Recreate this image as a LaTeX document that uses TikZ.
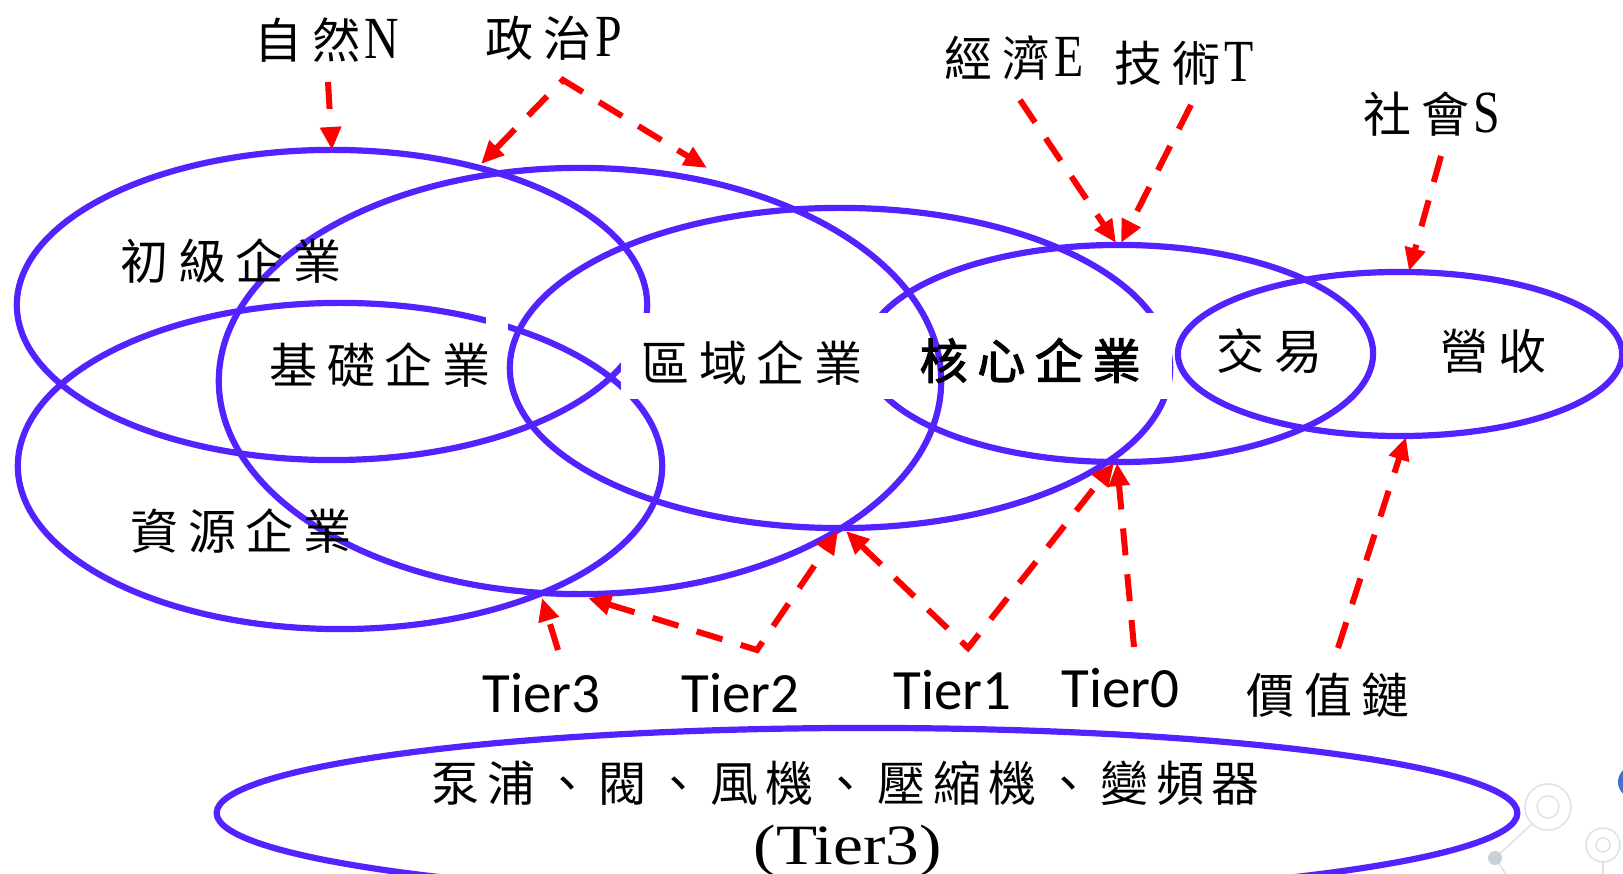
\documentclass[tikz,border=0pt]{standalone}
\usepackage{fontspec}
\usetikzlibrary{arrows.meta}
\newfontfamily\cjkfont[LetterSpace=20]{Noto Sans CJK TC}
\newfontfamily\cjkwidefont[LetterSpace=16]{Noto Sans CJK TC}
\newfontfamily\cjkboldfont[LetterSpace=20,FakeBold=2.5]{Noto Sans CJK TC}
\newfontfamily\latnarrow[FakeStretch=0.8]{Liberation Serif}
\newfontfamily\latwide[FakeStretch=1.18]{Liberation Serif}
\newfontfamily\tierfont{Carlito}
\newcommand\latchar[1]{\kern0.04cm{\latnarrow\fontsize{17pt}{20pt}\selectfont #1}}
\definecolor{ellblue}{RGB}{84,34,255}
\definecolor{arrred}{RGB}{255,0,0}
\definecolor{decogray}{RGB}{222,226,230}
\definecolor{decodot}{RGB}{200,208,218}
\definecolor{decoblue}{RGB}{68,114,196}
\tikzset{
  ell/.style={draw=ellblue, line width=0.062cm},
  cj/.style={font=\cjkfont\fontsize{13.66pt}{16pt}\selectfont, inner sep=0pt, anchor=base west},
  cjw/.style={font=\cjkwidefont\fontsize{13.66pt}{16pt}\selectfont, inner sep=0pt, anchor=base west},
  cjb/.style={font=\cjkboldfont\fontsize{13.66pt}{16pt}\selectfont, inner sep=0pt, anchor=base west},
  tier/.style={font=\tierfont\fontsize{16.2pt}{19pt}\selectfont, inner sep=0pt, anchor=base west},
  paren/.style={font=\latwide\fontsize{16.2pt}{19pt}\selectfont, inner sep=0pt, anchor=base west},
  arr/.style={draw=arrred, line width=0.06cm, dash pattern=on 0.27cm off 0.19cm,
    -{Triangle[length=0.23cm,width=0.2cm]}},
  arrboth/.style={draw=arrred, line width=0.06cm, dash pattern=on 0.27cm off 0.19cm,
    {Triangle[length=0.23cm,width=0.2cm]}-{Triangle[length=0.23cm,width=0.2cm]}},
  deco/.style={draw=decogray, line width=0.015cm}
}
\begin{document}
\begin{tikzpicture}[x=0.01cm,y=-0.01cm]
\useasboundingbox (0,0) rectangle (1623,874);
\clip (0,0) rectangle (1623,874);
\fill[white] (0,0) rectangle (1623,874);

% background decoration (bottom right)
\draw[deco] (1533,823) -- (1495,858) -- (1510,880);
\draw[deco] (1603,862) -- (1603,880);
\draw[deco, fill=white] (1548,807) circle [radius=0.23cm];
\draw[deco] (1548,807) circle [radius=0.11cm];
\draw[deco, fill=white] (1603,845) circle [radius=0.17cm];
\draw[deco] (1603,845) circle [radius=0.07cm];
\fill[decodot] (1495,858) circle [radius=0.07cm];
\fill[decoblue] (1634,782) circle [radius=0.16cm];

% ellipses
\draw[ell] (332,305) ellipse [x radius=3.15cm, y radius=1.55cm];
\draw[ell] (340,466) ellipse [x radius=3.22cm, y radius=1.63cm];
\draw[ell] (840,368) ellipse [x radius=3.30cm, y radius=1.60cm];
\draw[ell] (1119,353.5) ellipse [x radius=2.54cm, y radius=1.085cm];
\draw[ell] (1400,354) ellipse [x radius=2.22cm, y radius=0.82cm];
\draw[ell] (867,813) ellipse [x radius=6.50cm, y radius=0.85cm];

% white label backgrounds
\fill[white] (621,313) rectangle (1172,399);
\fill[white] (486,310) rectangle (508,333);

\draw[ell] (580,381) ellipse [x radius=3.61cm, y radius=2.13cm];

% labels
\node[cj] (ziran) at (254,59) {自然\latchar{N}};
\node[cj] (zhengzhi) at (485,57) {政治\latchar{P}};
\node[cj] (jingji) at (944,77) {經濟\latchar{E}};
\node[cj] (jishu) at (1114,82) {技術\latchar{T}};
\node[cj] (shehui) at (1363,133) {社會\latchar{S}};

\node[cj] (chuji) at (120,280) {初級企業};
\node[cj] (jichu) at (269,384) {基礎企業};
\node[cj] (quyu) at (641,382) {區域企業};
\node[cjb] (hexin) at (919,379) {核心企業};
\node[cj] (jiaoyi) at (1216,370) {交易};
\node[cj] (yingshou) at (1440,370) {營收};
\node[cj] (ziyuan) at (130,550) {資源企業};

\node[tier] (tier3) at (482,713) {Tier3};
\node[tier] (tier2) at (681,713) {Tier2};
\node[tier] (tier1) at (893,710) {Tier1};
\node[tier] (tier0) at (1061,708) {Tier0};
\node[cj] (jiazhi) at (1246,714) {價值鏈};

\node[cjw] (parts) at (431,802) {泵浦、閥、風機、壓縮機、變頻器};
\node[paren] (tierthree) at (753,865) {(Tier3)};

% connector end points
\coordinate (nS) at (328,82);   \coordinate (nE) at (332,150);
\coordinate (pA) at (563,80);   \coordinate (pL) at (481,164); \coordinate (pR) at (707,168);
\coordinate (eS) at (1020,100); \coordinate (eE) at (1116,243);
\coordinate (tS) at (1191,105); \coordinate (tE) at (1121,243);
\coordinate (sS) at (1441,156); \coordinate (sE) at (1409,271);
\coordinate (t3S) at (558,650); \coordinate (t3E) at (542,598);
\coordinate (t2A) at (757,650); \coordinate (t2L) at (588,598); \coordinate (t2R) at (838,531);
\coordinate (t1A) at (968,648); \coordinate (t1L) at (846,531); \coordinate (t1R) at (1114,463);
\coordinate (t0S) at (1134,647); \coordinate (t0E) at (1117,463);
\coordinate (vS) at (1338,648); \coordinate (vE) at (1406,437);

% connectors
\draw[arr] (nS) -- (nE);
\draw[arrboth] (pL) -- (pA) -- (pR);
\draw[arr] (eS) -- (eE);
\draw[arr] (tS) -- (tE);
\draw[arr] (sS) -- (sE);
\draw[arr] (t3S) -- (t3E);
\draw[arrboth] (t2L) -- (t2A) -- (t2R);
\draw[arrboth] (t1L) -- (t1A) -- (t1R);
\draw[arr] (t0S) -- (t0E);
\draw[arr] (vS) -- (vE);
\end{tikzpicture}
\end{document}
